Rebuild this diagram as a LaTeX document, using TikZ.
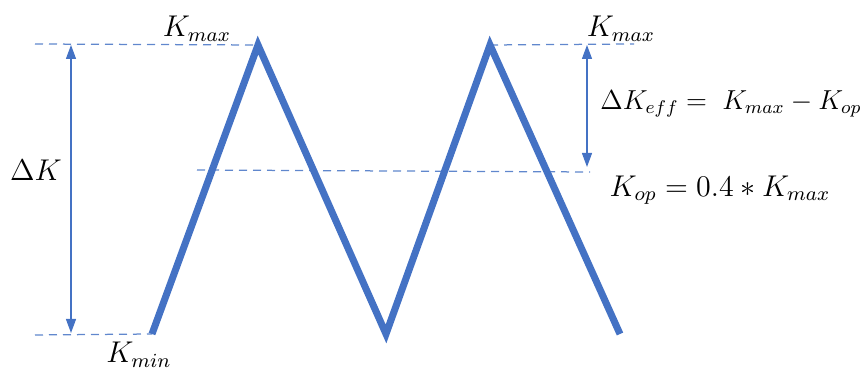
\documentclass[tikz,border=0pt]{standalone}
\usetikzlibrary{arrows.meta}
\definecolor{wave}{RGB}{68,114,196}
\begin{document}
\begin{tikzpicture}[x=0.4pt,y=-0.4pt,
    wavestyle/.style={draw=wave,line width=2.8pt,line join=miter},
    guide/.style={draw=wave!85,line width=0.5pt,dash pattern=on 3.2pt off 2.4pt},
    span/.style={draw=wave,line width=0.5pt,{Triangle[width=4pt,length=5.6pt]}-{Triangle[width=4pt,length=5.6pt]}},
    lbl/.style={inner sep=0pt,font=\large}]

\useasboundingbox (0,0) rectangle (868,371);

% ===== Points of the wave =====
\coordinate (w0) at (152,334);
\coordinate (w1) at (258,45);
\coordinate (w2) at (386,334);
\coordinate (w3) at (490,45);
\coordinate (w4) at (620,334);

% ===== Guide lines =====
\coordinate (gl) at (35,44);
\coordinate (gr) at (634,44);
\coordinate (bl) at (35,335);
\coordinate (ml) at (197,170);
\coordinate (mr) at (590,172);
\draw[guide] (gl) -- (w1);
\draw[guide] (w3) -- (gr);
\draw[guide] (bl) -- (w0);
\draw[guide] (ml) -- (mr);

% ===== The wave =====
\draw[wavestyle] (w0) -- (w1) -- (w2) -- (w3) -- (w4);

% ===== Ranges =====
\coordinate (at) at (71,45);
\coordinate (ab) at (71,333);
\coordinate (bt) at (587,45);
\coordinate (bb) at (587,167);
\draw[span] (at) -- (ab);
\draw[span] (bt) -- (bb);

% ===== Labels =====
\node[lbl] (kmax1) at (197,29) {$K_{max}$};
\node[lbl] (kmax2) at (621,29) {$K_{max}$};
\node[lbl] (kmin) at (139,355) {$K_{min}$};
\node[lbl] (dk) at (36,170) {$\Delta K$};
\node[lbl,anchor=east,scale=0.915] (dkeff) at (862,104) {$\Delta K_{eff} =\; K_{max} - K_{op}$};
\node[lbl] (kop) at (720,190) {$K_{op} = 0.4 * K_{max}$};

\end{tikzpicture}
\end{document}
